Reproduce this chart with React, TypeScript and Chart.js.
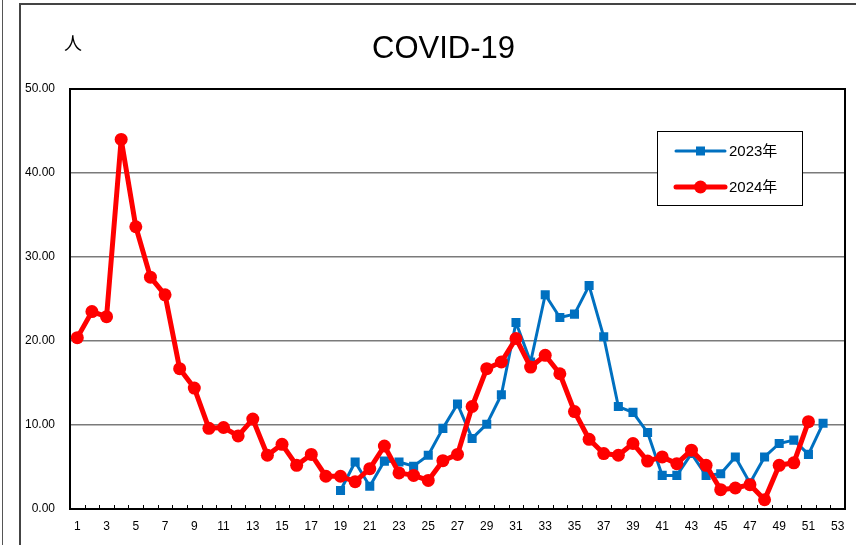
import React, { useEffect, useRef } from 'react';
import { Chart, registerables } from 'chart.js';

Chart.register(...registerables);

const weeks = ['1','2','3','4','5','6','7','8','9','10','11','12','13','14','15','16','17','18','19','20','21','22','23','24','25','26','27','28','29','30','31','32','33','34','35','36','37','38','39','40','41','42','43','44','45','46','47','48','49','50','51','52','53'];

const series2023Label = '2023年';
const series2023 = [null,null,null,null,null,null,null,null,null,null,null,null,null,null,null,null,null,null,
  2.2,5.6,2.7,5.7,5.6,5.1,6.4,9.6,12.5,8.4,10.1,13.6,22.2,17.5,25.5,22.8,23.2,26.6,20.5,12.2,11.5,9.1,4.0,4.0,6.6,4.0,4.2,6.2,3.1,6.2,7.8,8.2,6.5,10.2,null];

const series2024Label = '2024年';
const series2024 = [20.4,23.5,22.9,44.0,33.6,27.6,25.5,16.7,14.4,9.6,9.7,8.7,10.7,6.4,7.7,5.2,6.5,3.9,3.9,3.25,4.8,7.5,4.3,4.0,3.4,5.75,6.5,12.2,16.7,17.5,20.3,16.9,18.3,16.1,11.6,
  8.3,6.6,6.4,7.8,5.7,6.2,5.4,7.0,5.2,2.3,2.5,2.9,1.1,5.2,5.5,10.4,null,null];

const yTicks = [0, 10, 20, 30, 40, 50];
const titleText = 'COVID-19';
const unitText = '人';

const FONT = "'Liberation Sans', Arial, 'Noto Sans CJK JP', sans-serif";

const decorPlugin = {
  id: 'decor',
  beforeDatasetsDraw(chart: any) {
    const { ctx, chartArea: a } = chart;
    ctx.save();
    ctx.strokeStyle = '#000';
    ctx.lineWidth = 2;
    ctx.strokeRect(a.left, a.top, a.right - a.left, a.bottom - a.top);
    // inward tick marks at category boundaries
    const n = chart.data.labels.length;
    const w = (a.right - a.left) / n;
    ctx.lineWidth = 1;
    for (let i = 1; i < n; i++) {
      const x = Math.round(a.left + i * w) + 0.5;
      ctx.beginPath();
      ctx.moveTo(x, a.bottom);
      ctx.lineTo(x, a.bottom - 4);
      ctx.stroke();
    }
    ctx.restore();
  },
  afterDraw(chart: any) {
    const { ctx, chartArea: a } = chart;
    ctx.save();
    // title
    ctx.fillStyle = '#000';
    ctx.textAlign = 'center';
    ctx.textBaseline = 'middle';
    ctx.font = `31px ${FONT}`;
    ctx.fillText(titleText, a.left + (a.right - a.left) / 2 - 14, a.top - 40);
    ctx.font = `18px 'Noto Sans CJK JP', sans-serif`;
    ctx.fillText(unitText, a.left + 3, a.top - 46);
    // legend
    const bx = a.right - 188, by = a.top + 42, bw = 145, bh = 74;
    ctx.fillStyle = '#fff';
    ctx.fillRect(bx, by, bw, bh);
    ctx.strokeStyle = '#000';
    ctx.lineWidth = 1;
    ctx.strokeRect(bx + 0.5, by + 0.5, bw, bh);
    const order = [0, 1];
    order.forEach((di, k) => {
      const ds = chart.data.datasets[di];
      const y = by + 20 + k * 36;
      const x0 = bx + 19, x1 = bx + 68, xm = (x0 + x1) / 2;
      ctx.strokeStyle = ds.borderColor;
      ctx.lineWidth = ds.borderWidth;
      ctx.lineCap = 'round';
      ctx.beginPath();
      ctx.moveTo(x0, y);
      ctx.lineTo(x1, y);
      ctx.stroke();
      ctx.fillStyle = ds.pointBackgroundColor;
      if (ds.pointStyle === 'rect') {
        ctx.fillRect(xm - 4.5, y - 4.5, 9, 9);
      } else {
        ctx.beginPath();
        ctx.arc(xm, y, 6.5, 0, Math.PI * 2);
        ctx.fill();
      }
      ctx.fillStyle = '#000';
      ctx.textAlign = 'left';
      ctx.textBaseline = 'middle';
      ctx.font = `15px ${FONT}`;
      ctx.fillText(ds.label, x1 + 4, y + 1);
    });
    ctx.restore();
  },
};

export default function App() {
  const ref = useRef<HTMLCanvasElement>(null);
  useEffect(() => {
    if (!ref.current) return;
    const chart = new Chart(ref.current, {
      type: 'line',
      data: {
        labels: weeks,
        datasets: [
          {
            label: series2023Label,
            data: series2023,
            borderColor: '#0070C0',
            backgroundColor: '#0070C0',
            pointBackgroundColor: '#0070C0',
            pointBorderColor: '#0070C0',
            borderWidth: 3,
            borderJoinStyle: 'round',
            borderCapStyle: 'round',
            pointStyle: 'rect',
            pointRadius: 6.4,
            pointBorderWidth: 0,
            tension: 0,
            order: 1,
          },
          {
            label: series2024Label,
            data: series2024,
            borderColor: '#FF0000',
            backgroundColor: '#FF0000',
            pointBackgroundColor: '#FF0000',
            pointBorderColor: '#FF0000',
            borderWidth: 5,
            borderJoinStyle: 'round',
            borderCapStyle: 'round',
            pointStyle: 'circle',
            pointRadius: 6.5,
            pointBorderWidth: 0,
            tension: 0,
            order: 0,
          },
        ] as any,
      },
      options: {
        animation: false,
        responsive: false,
        maintainAspectRatio: false,
        events: [],
        layout: { padding: { left: 0, top: 89, right: 11, bottom: 0 } },
        plugins: {
          legend: { display: false },
          title: { display: false },
          tooltip: { enabled: false },
        },
        scales: {
          x: {
            type: 'category',
            offset: true,
            grid: { display: false, drawTicks: false },
            border: { display: false },
            ticks: {
              autoSkip: false,
              maxRotation: 0,
              padding: 10,
              color: '#000',
              font: { family: FONT, size: 12 },
              callback: (v: any, i: number) => (i % 2 === 0 ? weeks[i] : ''),
            },
            afterFit: (s: any) => { s.height = 36; },
          },
          y: {
            min: yTicks[0],
            max: yTicks[yTicks.length - 1],
            afterBuildTicks: (s: any) => { s.ticks = yTicks.map((v) => ({ value: v })); },
            grid: {
              drawTicks: false,
              color: (c: any) => (c.tick && (c.tick.value === 0 || c.tick.value === 50) ? 'rgba(0,0,0,0)' : '#7a7a7a'),
              lineWidth: 1.5,
            },
            border: { display: false },
            ticks: {
              padding: 15,
              color: '#000',
              font: { family: FONT, size: 12 },
              callback: (v: any) => Number(v).toFixed(2),
            },
            afterFit: (s: any) => { s.width = 70; },
          },
        },
      },
      plugins: [decorPlugin],
    });
    return () => chart.destroy();
  }, []);

  return (
    <div style={{ position: 'fixed', left: 0, top: 0, width: 856, height: 545, background: '#fff', overflow: 'hidden' }}>
      <div style={{ position: 'absolute', left: 2, top: 0, width: 1, height: 545, background: '#555' }} />
      <div style={{ position: 'absolute', left: 19, top: 3, width: 2, height: 542, background: '#444' }} />
      <div style={{ position: 'absolute', left: 19, top: 3, width: 837, height: 2, background: '#444' }} />
      <canvas ref={ref} width={856} height={545} style={{ position: 'absolute', left: 0, top: 0 }} />
    </div>
  );
}
